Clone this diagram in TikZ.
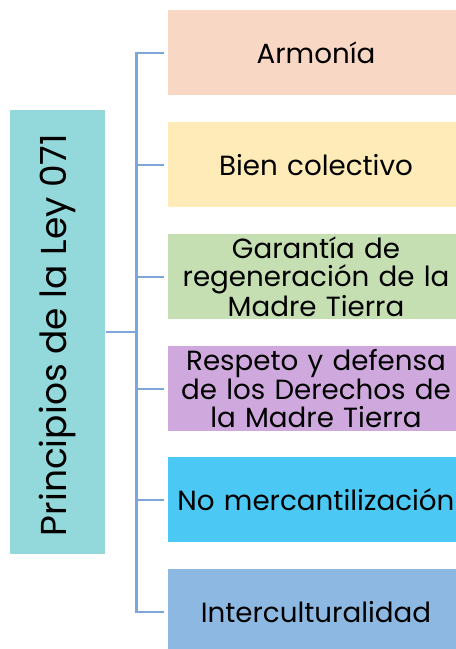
\documentclass[tikz,border=0pt]{standalone}
\usepackage{fontspec}
\setmainfont{Poppins}
\definecolor{cLeft}{HTML}{93D9DB}
\definecolor{cA}{HTML}{F8D8C5}
\definecolor{cB}{HTML}{FFEBB7}
\definecolor{cC}{HTML}{C5DFB3}
\definecolor{cD}{HTML}{CFA9DE}
\definecolor{cE}{HTML}{4CC8F4}
\definecolor{cF}{HTML}{8DB8E2}
\definecolor{cLine}{HTML}{7DA7DB}
\tikzset{
  item/.style={rectangle, anchor=north west, minimum width=222pt, minimum height=63.75pt,
    inner sep=0pt, outer xsep=3pt, align=center, text width=217.5pt,
    font=\fontsize{20.8pt}{21.4pt}\selectfont, text=black},
  conn/.style={draw=cLine, line width=1.7pt, line join=miter}
}
\begin{document}
\begin{tikzpicture}[x=0.75pt, y=-0.75pt]
\useasboundingbox (0,0) rectangle (456,649);
\clip (0,0) rectangle (456,649);
\node[rectangle, fill=cLeft, anchor=north west, minimum width=71.25pt, minimum height=333pt, inner sep=0pt] (L) at (10,110) {};
\node[rotate=90, font=\fontsize{27pt}{27pt}\selectfont, text=black] (Lt) at (57,335) {Principios de la Ley 071};
\node[item, fill=cA] (b1) at (164,10) {Armonía};
\node[item, fill=cB] (b2) at (164,122) {Bien colectivo};
\node[item, fill=cC] (b3) at (164,234) {Garantía de\\regeneración de la\\Madre Tierra};
\node[item, fill=cD] (b4) at (164,346) {Respeto y defensa\\de los Derechos de\\la Madre Tierra};
\node[item, fill=cE] (b5) at (164,457) {No mercantilización};
\node[item, fill=cF] (b6) at (164,569) {Interculturalidad};
\coordinate (sp) at (136.5,0);
\draw[conn] (b1.west) -- (b1.west -| sp) -- (b6.west -| sp) -- (b6.west);
\foreach \i in {2,3,4,5} { \draw[conn] (b\i.west -| sp) -- (b\i.west); }
\draw[conn] (L.east) -- (L.east -| sp);
\end{tikzpicture}
\end{document}
